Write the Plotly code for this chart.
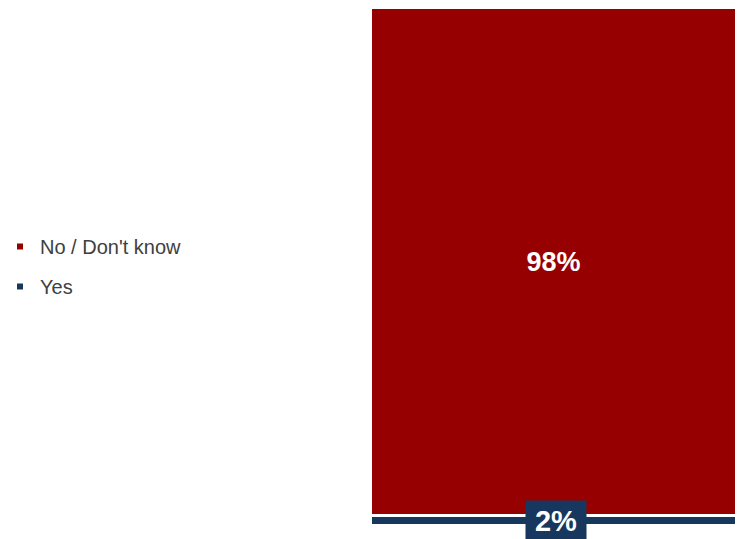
import plotly.graph_objects as go

categories = [""]
yes_values = [2]
no_values = [98]
colors = {"Yes": "#17375E", "No / Don't know": "#960000"}

W, H = 737, 539
L, T, B = 371, 8, 13

fig = go.Figure()
fig.add_trace(go.Bar(
    x=categories, y=yes_values, name="Yes", width=1,
    marker=dict(color=colors["Yes"], line=dict(color="white", width=3)),
    showlegend=False, hoverinfo="skip",
))
fig.add_trace(go.Bar(
    x=categories, y=no_values, name="No / Don't know", width=1,
    marker=dict(color=colors["No / Don't know"], line=dict(color="white", width=3)),
    text=[f"<b>{v}%</b>" for v in no_values], textposition="inside",
    insidetextanchor="middle",
    textfont=dict(color="white", size=27, family="Arial, Liberation Sans"),
    showlegend=False, hoverinfo="skip",
))
# legend keys (small squares)
for i, nm in enumerate(["No / Don't know", "Yes"]):
    fig.add_trace(go.Scatter(
        x=[None], y=[None], mode="markers", name=nm, legendgroup=f"g{i}",
        marker=dict(symbol="square", size=6, color=colors[nm]),
    ))

fig.add_annotation(
    x=categories[0], y=yes_values[0] / 2, xref="x", yref="y",
    text=f"<b>{yes_values[0]}%</b>", showarrow=False,
    font=dict(color="white", size=29, family="Arial, Liberation Sans"),
    bgcolor=colors["Yes"], width=58, height=37, xanchor="center", yanchor="middle",
    xshift=2,
)

fig.update_layout(
    width=W, height=H,
    margin=dict(l=L, r=0, t=T, b=B),
    barmode="stack", bargap=0,
    plot_bgcolor="white", paper_bgcolor="white",
    font=dict(family="Arial, Liberation Sans", color="#404040", size=20),
    xaxis=dict(visible=False, range=[-0.5, 0.5]),
    yaxis=dict(visible=False, range=[0, 100]),
    legend=dict(
        x=0, xref="container", xanchor="left",
        y=(H - 227) / H, yref="container", yanchor="top",
        font=dict(size=20, color="#404040"), itemwidth=30,
        tracegroupgap=11, traceorder="grouped", bgcolor="rgba(0,0,0,0)",
    ),
)

fig.write_html("out.html", config={"displayModeBar": False},
               post_script="document.body.style.margin='0px';")
